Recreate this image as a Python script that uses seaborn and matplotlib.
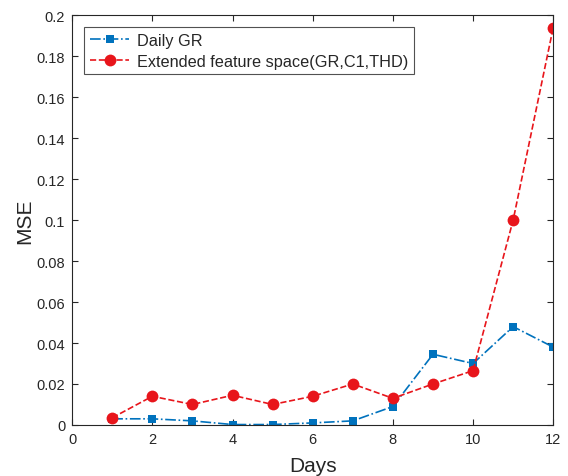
import matplotlib
matplotlib.use('Agg')
import matplotlib.pyplot as plt
import seaborn as sns
import pandas as pd

days = [1, 2, 3, 4, 5, 6, 7, 8, 9, 10, 11, 12]
daily_gr = [0.003, 0.003, 0.002, 0.0002, 0.0002, 0.001, 0.002, 0.009, 0.0345, 0.030, 0.048, 0.038]
extended = [0.0035, 0.014, 0.010, 0.0145, 0.010, 0.014, 0.020, 0.013, 0.020, 0.0265, 0.100, 0.194]
labels = ['Daily GR', 'Extended feature space(GR,C1,THD)']

sns.set_style('white')
plt.rcParams['font.family'] = ['Liberation Sans', 'DejaVu Sans']

fig = plt.figure(figsize=(5.68, 4.77), dpi=100)
ax = fig.add_axes([0.127, 0.107, 0.847, 0.859])

df_gr = pd.DataFrame({'day': days, 'mse': daily_gr})
df_ext = pd.DataFrame({'day': days, 'mse': extended})

sns.lineplot(data=df_gr, x='day', y='mse', ax=ax, color='#0072BD',
             linestyle='-.', marker='s', markersize=6, markeredgewidth=0,
             linewidth=1.2, label=labels[0])
sns.lineplot(data=df_ext, x='day', y='mse', ax=ax, color='#E8151B',
             linestyle='--', dashes=(5, 4), marker='o', markersize=8.5, markeredgewidth=0,
             linewidth=1.2, label=labels[1])

ax.set_xlim(0, 12)
ax.set_ylim(0, 0.2)
ax.set_xticks(range(0, 13, 2))
ax.set_yticks([i * 0.02 for i in range(11)])
ax.set_yticklabels(['0', '0.02', '0.04', '0.06', '0.08', '0.1', '0.12',
                    '0.14', '0.16', '0.18', '0.2'])
ax.tick_params(direction='in', length=4, width=0.8, labelsize=10.5, colors='#262626',
               top=True, right=True, bottom=True, left=True, pad=5)
for s in ax.spines.values():
    s.set_color('#262626')
    s.set_linewidth(0.8)
ax.set_xlabel('Days', fontsize=15, color='#262626', labelpad=7)
ax.set_ylabel('MSE', fontsize=15, color='#262626', labelpad=2)

leg = ax.legend(loc='upper left', fontsize=11.7, frameon=True, fancybox=False,
                edgecolor='#262626', borderaxespad=0.75, handlelength=2.4,
                borderpad=0.35, labelspacing=0.35, handletextpad=0.5)
leg.get_frame().set_linewidth(0.8)

fig.savefig('out.png', dpi=100)
